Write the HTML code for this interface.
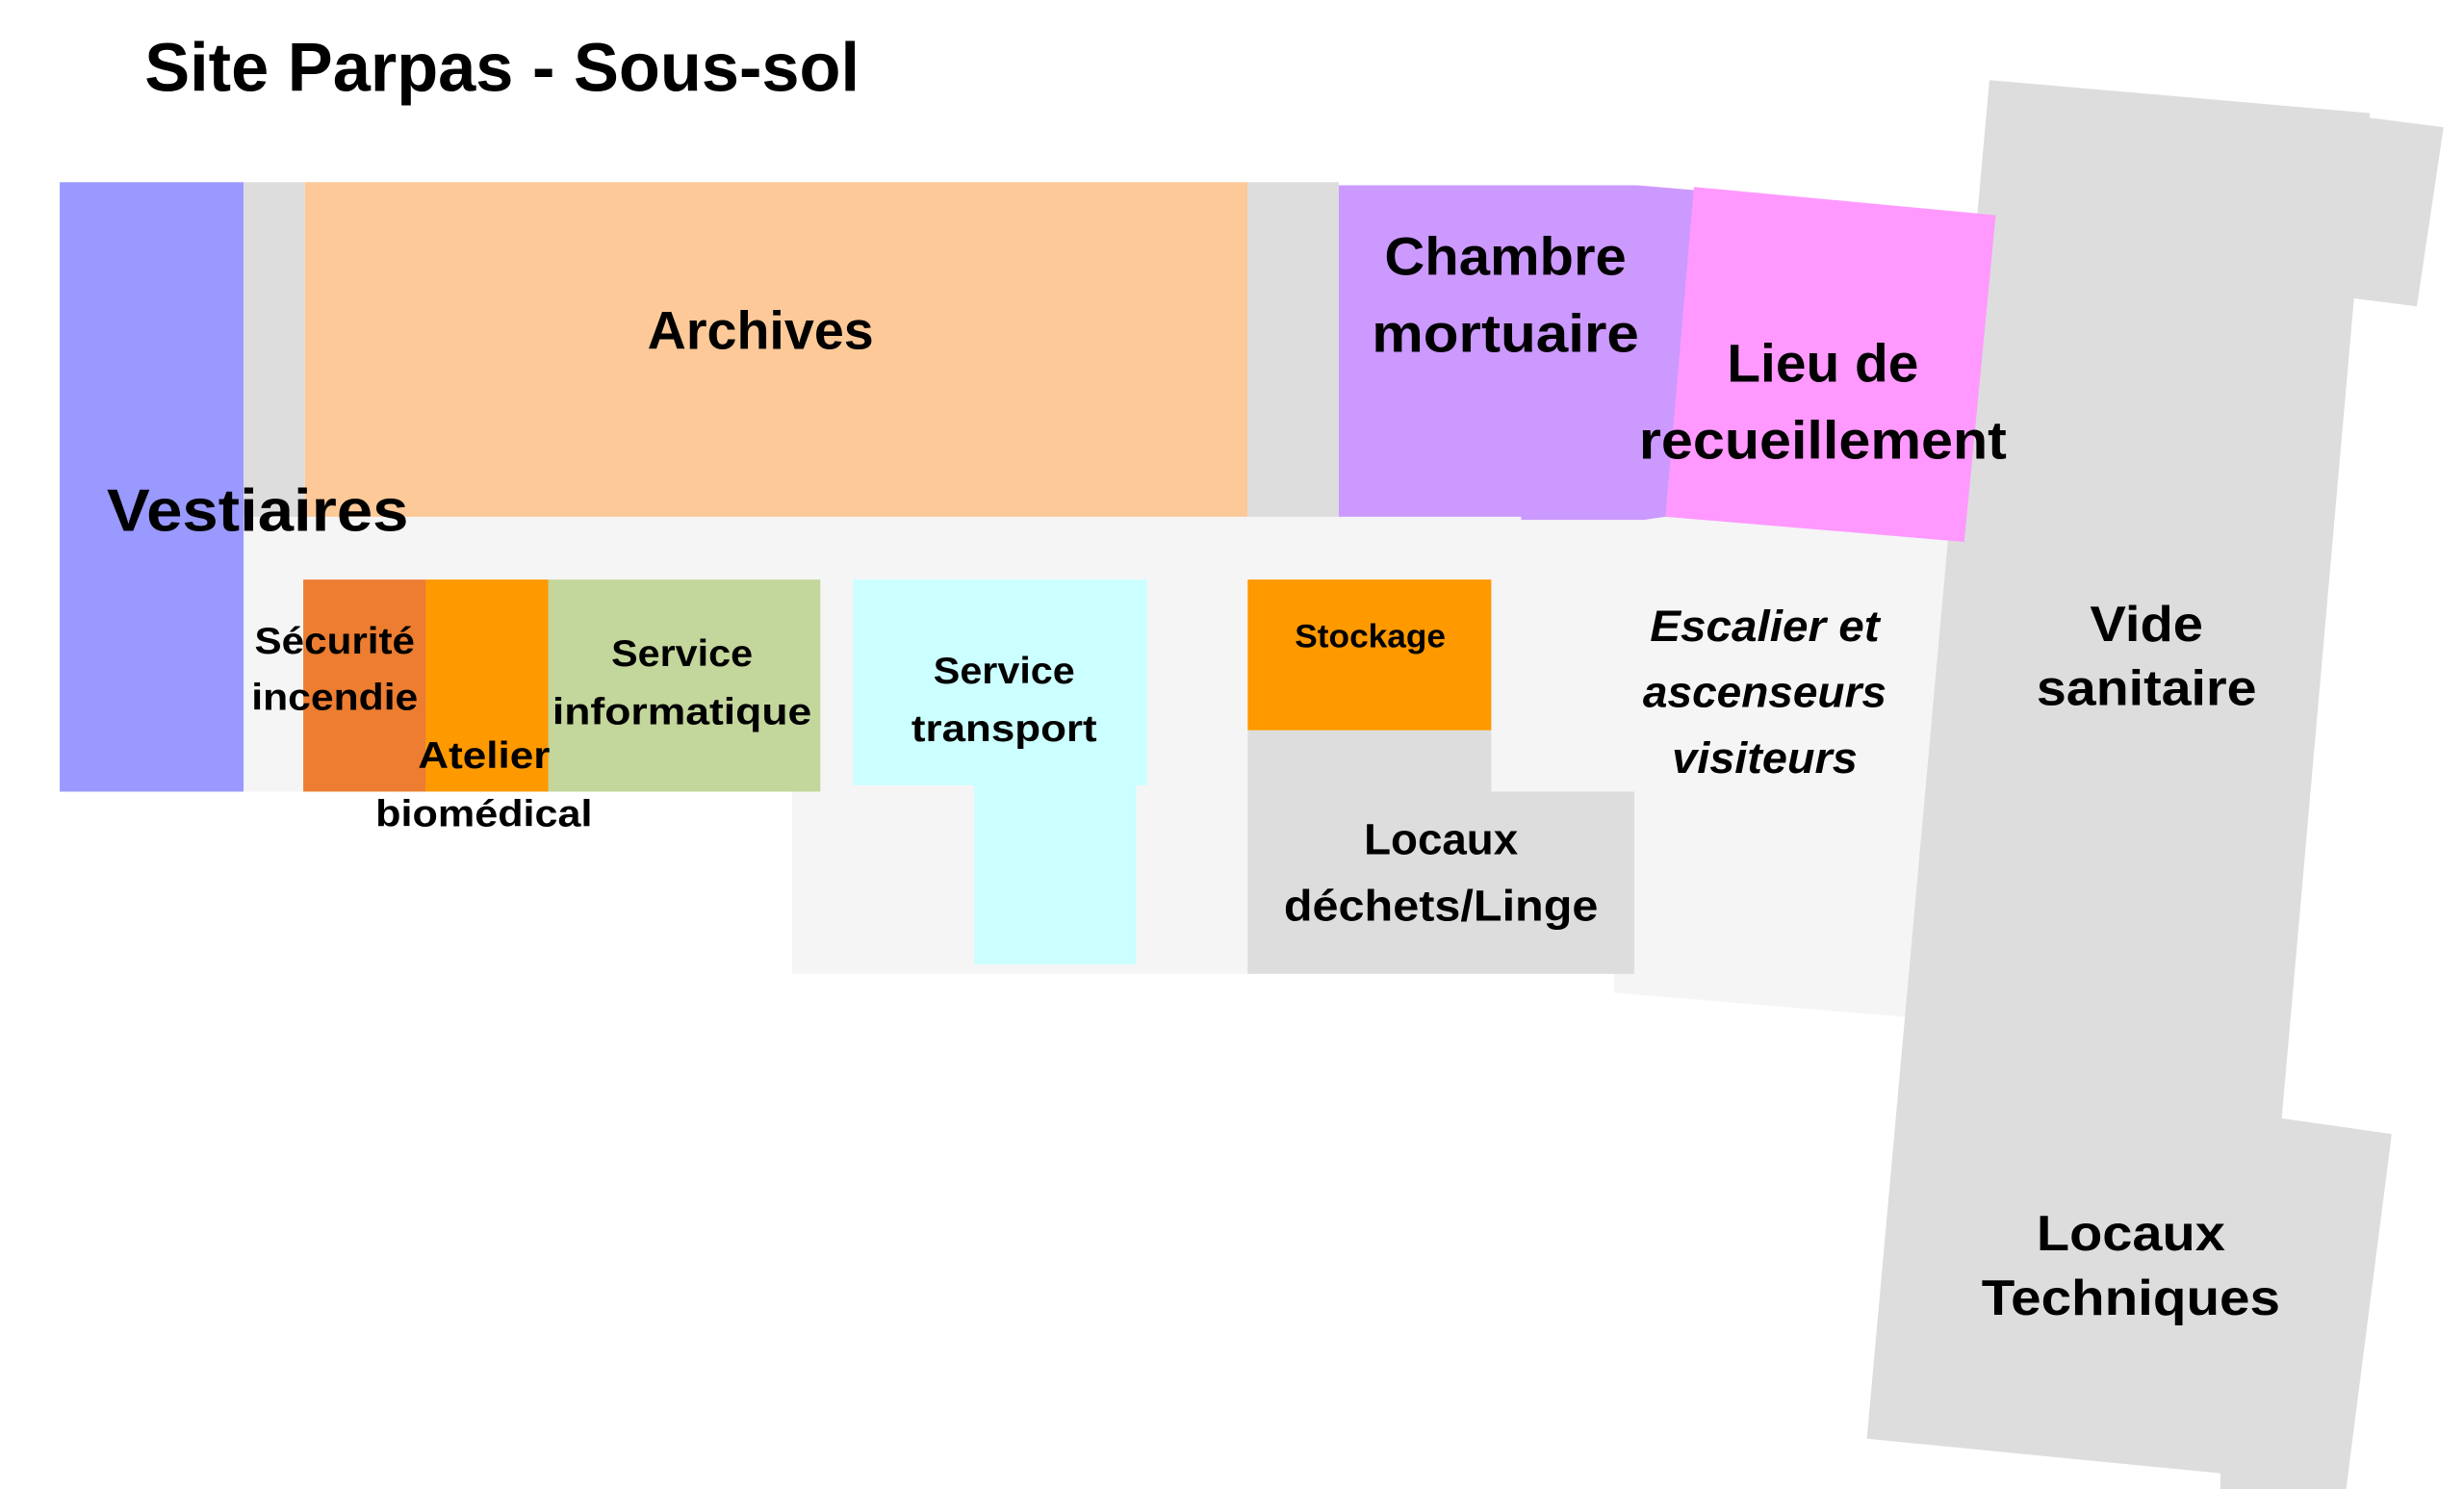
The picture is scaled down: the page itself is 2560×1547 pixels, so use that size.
<!DOCTYPE html>
<html><head><meta charset="utf-8"><style>
html,body{margin:0;padding:0;background:#fff;}
svg{display:block}
text{font-family:"Liberation Sans",sans-serif;font-weight:bold;fill:#000;text-anchor:middle}
</style></head><body>
<svg width="2560" height="1547" viewBox="0 0 1568 948" preserveAspectRatio="none" xmlns="http://www.w3.org/2000/svg">
<rect width="1568" height="948" fill="#fff"/>
<!-- corridor -->
<polygon points="155,328 1062,328 1252,344 1220,648 1027,632 1027,620 504,620 504,504 155,504" fill="#f5f5f5"/>
<!-- vide sanitaire -->
<polygon points="1266,51 1508,72 1508,75 1555,81 1538,195 1498,190 1452,712 1522,722 1493,948 1413,948 1413,938 1188,916" fill="#dddddd"/>
<rect x="38" y="116" width="117" height="388" fill="#9999ff"/>
<rect x="155" y="116" width="39" height="213" fill="#dddddd"/>
<rect x="194" y="116" width="600" height="213" fill="#fdc998"/>
<rect x="794" y="116" width="58" height="213" fill="#dddddd"/>
<polygon points="852,118 1042,118 1078,121 1060,329 1046,331 968,331 968,329 852,329" fill="#cc99ff"/>
<polygon points="1078,119 1270,137 1250,345 1060,329" fill="#ff99ff"/>
<rect x="193" y="369" width="78" height="135" fill="#ed7d31"/>
<rect x="271" y="369" width="78" height="135" fill="#ff9900"/>
<rect x="349" y="369" width="173" height="135" fill="#c3d69b"/>
<rect x="543" y="369" width="187" height="131" fill="#ccffff"/>
<rect x="620" y="498" width="103" height="116" fill="#ccffff"/>
<rect x="794" y="369" width="155" height="96" fill="#ff9900"/>
<rect x="794" y="465" width="155" height="40" fill="#dddddd"/>
<rect x="794" y="504" width="246" height="116" fill="#dddddd"/>

<text x="92" y="58" font-size="44" style="text-anchor:start" textLength="455" lengthAdjust="spacingAndGlyphs">Site Parpas - Sous-sol</text>
<text x="484" y="222" font-size="34" textLength="144" lengthAdjust="spacingAndGlyphs">Archives</text>
<text x="68" y="338" font-size="38" style="text-anchor:start" textLength="192" lengthAdjust="spacingAndGlyphs">Vestiaires</text>
<text x="958" y="175" font-size="34" textLength="154" lengthAdjust="spacingAndGlyphs">Chambre</text>
<text x="958" y="224" font-size="34" textLength="170" lengthAdjust="spacingAndGlyphs">mortuaire</text>
<text x="1160" y="243" font-size="34" textLength="122" lengthAdjust="spacingAndGlyphs">Lieu de</text>
<text x="1160" y="292" font-size="34" textLength="234" lengthAdjust="spacingAndGlyphs">recueillement</text>
<text x="1366" y="408" font-size="32" textLength="72" lengthAdjust="spacingAndGlyphs">Vide</text>
<text x="1366" y="449" font-size="32" textLength="140" lengthAdjust="spacingAndGlyphs">sanitaire</text>
<text x="1356" y="796" font-size="32" textLength="120" lengthAdjust="spacingAndGlyphs">Locaux</text>
<text x="1356" y="837" font-size="32" textLength="190" lengthAdjust="spacingAndGlyphs">Techniques</text>
<text x="213" y="416" font-size="24" textLength="102" lengthAdjust="spacingAndGlyphs">Sécurité</text>
<text x="213" y="452" font-size="24" textLength="106" lengthAdjust="spacingAndGlyphs">incendie</text>
<text x="308" y="489" font-size="24" textLength="84" lengthAdjust="spacingAndGlyphs">Atelier</text>
<text x="308" y="526" font-size="24" textLength="138" lengthAdjust="spacingAndGlyphs">biomédical</text>
<text x="434" y="424" font-size="24" textLength="90" lengthAdjust="spacingAndGlyphs">Service</text>
<text x="434" y="461" font-size="24" textLength="165" lengthAdjust="spacingAndGlyphs">informatique</text>
<text x="639" y="435" font-size="24" textLength="90" lengthAdjust="spacingAndGlyphs">Service</text>
<text x="639" y="472" font-size="24" textLength="118" lengthAdjust="spacingAndGlyphs">transport</text>
<text x="872" y="412" font-size="21" textLength="96" lengthAdjust="spacingAndGlyphs">Stockage</text>
<text x="1123" y="408" font-size="28" font-style="italic" textLength="146" lengthAdjust="spacingAndGlyphs">Escalier et</text>
<text x="1123" y="450" font-size="28" font-style="italic" textLength="155" lengthAdjust="spacingAndGlyphs">ascenseurs</text>
<text x="1123" y="492" font-size="28" font-style="italic" textLength="118" lengthAdjust="spacingAndGlyphs">visiteurs</text>
<text x="917" y="544" font-size="28" textLength="98" lengthAdjust="spacingAndGlyphs">Locaux</text>
<text x="917" y="586" font-size="28" textLength="200" lengthAdjust="spacingAndGlyphs">déchets/Linge</text>
</svg>
</body></html>
